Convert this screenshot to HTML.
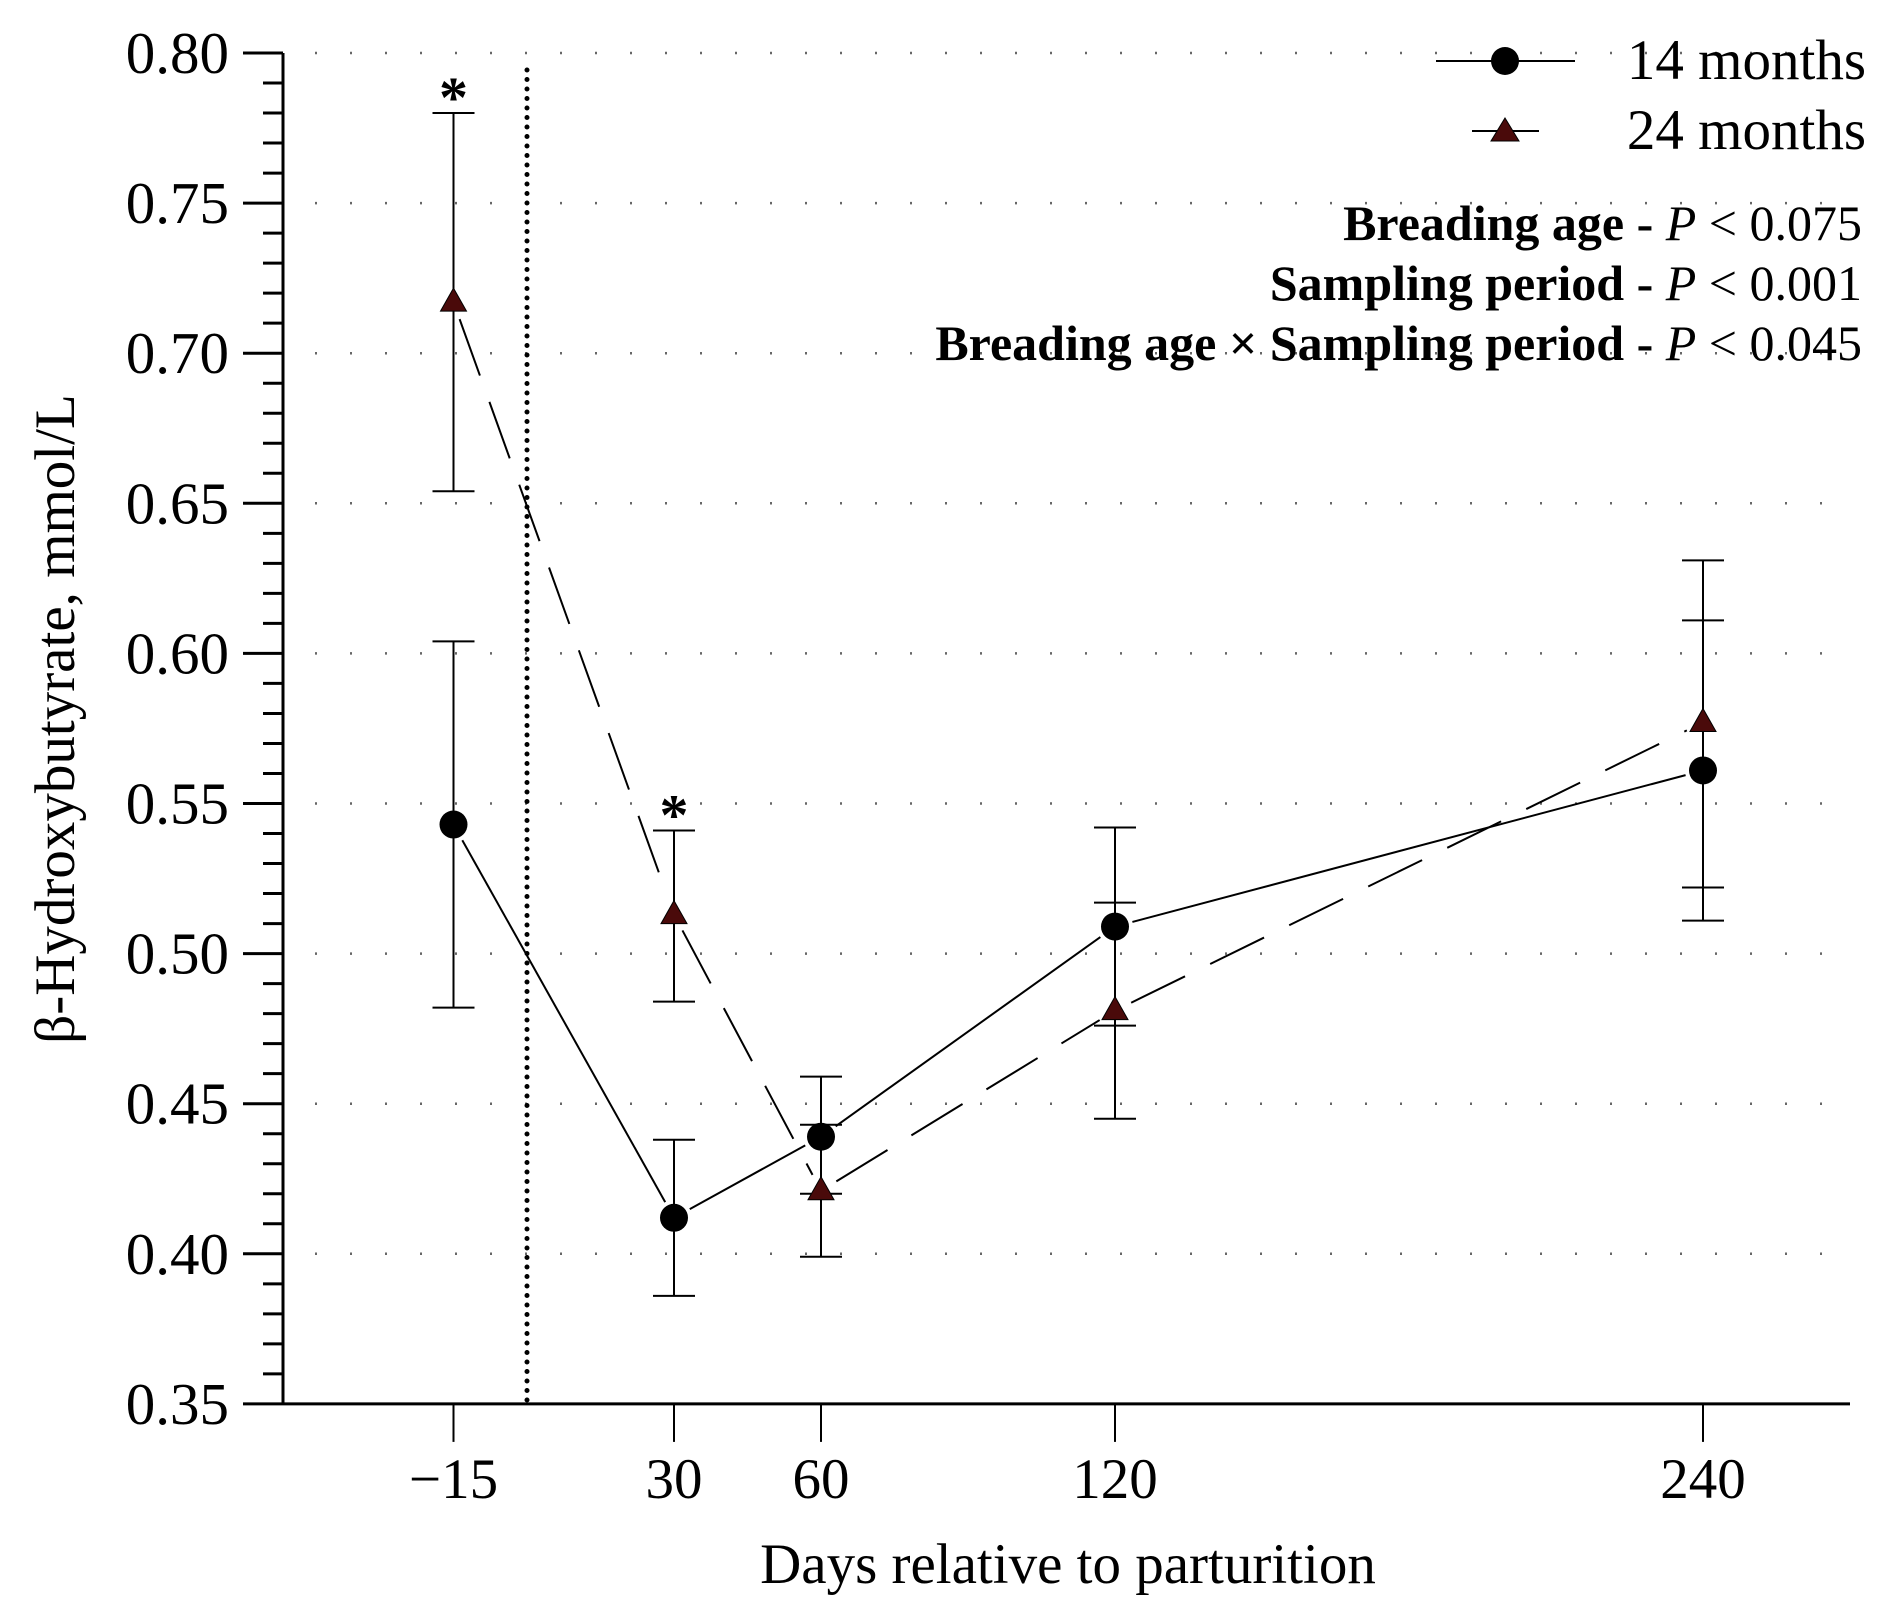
<!DOCTYPE html>
<html><head><meta charset="utf-8"><style>
html,body{margin:0;padding:0;background:#fff;}
svg{display:block;font-family:"Liberation Serif",serif;}
</style></head><body>
<svg id="chart" width="1890" height="1613" viewBox="0 0 1890 1613" xmlns="http://www.w3.org/2000/svg">
<g id="grid"></g>
<g id="axes"></g>
<g id="series"></g>
<text x="1068" y="1583" font-size="57" text-anchor="middle">Days relative to parturition</text>
<text transform="translate(74,719) rotate(-90)" font-size="57" text-anchor="middle">β-Hydroxybutyrate, mmol/L</text>
<g>
<line x1="1436" y1="61" x2="1575" y2="61" stroke="#000" stroke-width="2"/>
<circle cx="1505" cy="61" r="14" fill="#000"/>
<text x="1866" y="79" font-size="57" text-anchor="end">14 months</text>
<line x1="1472" y1="131" x2="1539" y2="131" stroke="#000" stroke-width="2"/>
<polygon points="1505,118 1519,141 1491,141" fill="#4a0a0a" stroke="#000" stroke-width="1"/>
<text x="1866" y="149" font-size="57" text-anchor="end">24 months</text>
</g>
<g font-size="50" font-weight="bold" text-anchor="end">
<text x="1862" y="240">Breading age - <tspan font-style="italic" font-weight="normal">P</tspan><tspan font-weight="normal"> &lt; 0.075</tspan></text>
<text x="1862" y="300">Sampling period - <tspan font-style="italic" font-weight="normal">P</tspan><tspan font-weight="normal"> &lt; 0.001</tspan></text>
<text x="1862" y="360">Breading age × Sampling period - <tspan font-style="italic" font-weight="normal">P</tspan><tspan font-weight="normal"> &lt; 0.045</tspan></text>
</g>
</svg>
<script>
const days = [-15, 30, 60, 120, 240];
const dayLabels = ["−15", "30", "60", "120", "240"];
const m14 = [0.543, 0.412, 0.439, 0.509, 0.561];
const m14Lo = [0.482, 0.386, 0.420, 0.476, 0.511];
const m14Hi = [0.604, 0.438, 0.459, 0.542, 0.611];
const m24 = [0.717, 0.513, 0.421, 0.481, 0.577];
const m24Lo = [0.654, 0.484, 0.399, 0.445, 0.522];
const m24Hi = [0.780, 0.541, 0.443, 0.517, 0.631];
const yTicks = [0.35, 0.40, 0.45, 0.50, 0.55, 0.60, 0.65, 0.70, 0.75, 0.80];
const yTickLabels = ["0.35","0.40","0.45","0.50","0.55","0.60","0.65","0.70","0.75","0.80"];
const signifIdx = [0, 1];

const NS = "http://www.w3.org/2000/svg";
function X(d){ return 527 + 4.9 * d; }
function Y(v){ return 53 + (0.80 - v) * 3002; }
function mk(tag, attrs, parent){
  const e = document.createElementNS(NS, tag);
  for (const k in attrs) e.setAttribute(k, attrs[k]);
  parent.appendChild(e); return e;
}
const grid = document.getElementById('grid');
const axes = document.getElementById('axes');
const ser = document.getElementById('series');
const X0 = 283, X1 = 1850, YB = Y(0.35);

yTicks.forEach((t, i) => {
  if (i === 0) return;
  const l = mk('line', {x1: 315, y1: Y(t), x2: X1, y2: Y(t), stroke: '#666', 'stroke-width': 2.5, 'stroke-dasharray': '2 33'}, grid);
  
  
});
const d0 = mk('line', {x1: X(0), y1: 70, x2: X(0), y2: YB, stroke: '#000', 'stroke-width': 5, 'stroke-dasharray': '0 9.5', 'stroke-linecap': 'round'}, grid);



mk('line', {x1: X0, y1: Y(0.80), x2: X0, y2: YB + 1, stroke: '#000', 'stroke-width': 3}, axes);
mk('line', {x1: X0, y1: YB, x2: X1, y2: YB, stroke: '#000', 'stroke-width': 3}, axes);
for (let k = 0; k <= 45; k++) {
  const v = 0.35 + k * 0.01;
  const major = k % 5 === 0;
  mk('line', {x1: major ? 243 : 263, y1: Y(v), x2: X0, y2: Y(v), stroke: '#000', 'stroke-width': 3}, axes);
}
yTicks.forEach((t, i) => {
  const tx = mk('text', {x: 229, y: Y(t) + 20, 'font-size': 59, 'text-anchor': 'end'}, axes);
  tx.textContent = yTickLabels[i];
  
  
});
days.forEach((d, i) => {
  mk('line', {x1: X(d), y1: YB, x2: X(d), y2: YB + 38, stroke: '#000', 'stroke-width': 2}, axes);
  const tx = mk('text', {x: X(d), y: 1498, 'font-size': 57, 'text-anchor': 'middle'}, axes);
  tx.textContent = dayLabels[i];
  
  
});

function errBars(vals, lo, hi, name){
  days.forEach((d, i) => {
    const g = mk('g', {stroke: '#000', 'stroke-width': 2}, ser);
    
    
    mk('line', {x1: X(d), y1: Y(lo[i]), x2: X(d), y2: Y(hi[i])}, g);
    mk('line', {x1: X(d) - 21, y1: Y(lo[i]), x2: X(d) + 21, y2: Y(lo[i])}, g);
    mk('line', {x1: X(d) - 21, y1: Y(hi[i]), x2: X(d) + 21, y2: Y(hi[i])}, g);
  });
}
errBars(m14, m14Lo, m14Hi, 'm14');
errBars(m24, m24Lo, m24Hi, 'm24');

function seg(vals, dash, name){
  for (let i = 0; i < days.length - 1; i++) {
    const x1 = X(days[i]), y1 = Y(vals[i]), x2 = X(days[i+1]), y2 = Y(vals[i+1]);
    const L = Math.hypot(x2 - x1, y2 - y1), ux = (x2 - x1) / L, uy = (y2 - y1) / L, g = 18;
    const l = mk('line', {x1: x1 + ux * g, y1: y1 + uy * g, x2: x2 - ux * g, y2: y2 - uy * g, stroke: '#000', 'stroke-width': 2}, ser);
    if (dash) l.setAttribute('stroke-dasharray', dash);
    
    
  }
}
seg(m14, null, 'm14');
seg(m24, '60 28', 'm24');

days.forEach((d, i) => {
  const c = mk('circle', {cx: X(d), cy: Y(m14[i]), r: 14, fill: '#000'}, ser);
  
  
});
days.forEach((d, i) => {
  const x = X(d), y = Y(m24[i]);
  const p = mk('polygon', {points: `${x},${y-14} ${x+13},${y+9} ${x-13},${y+9}`, fill: '#4a0a0a', stroke: '#000', 'stroke-width': 1}, ser);
  
  
});
signifIdx.forEach(i => {
  const t = mk('text', {x: X(days[i]), y: Y(m24Hi[i]) + 4, 'font-size': 58, 'font-weight': 'bold', 'text-anchor': 'middle'}, ser);
  t.textContent = '*';
  
  
});
</script>
</body></html>
